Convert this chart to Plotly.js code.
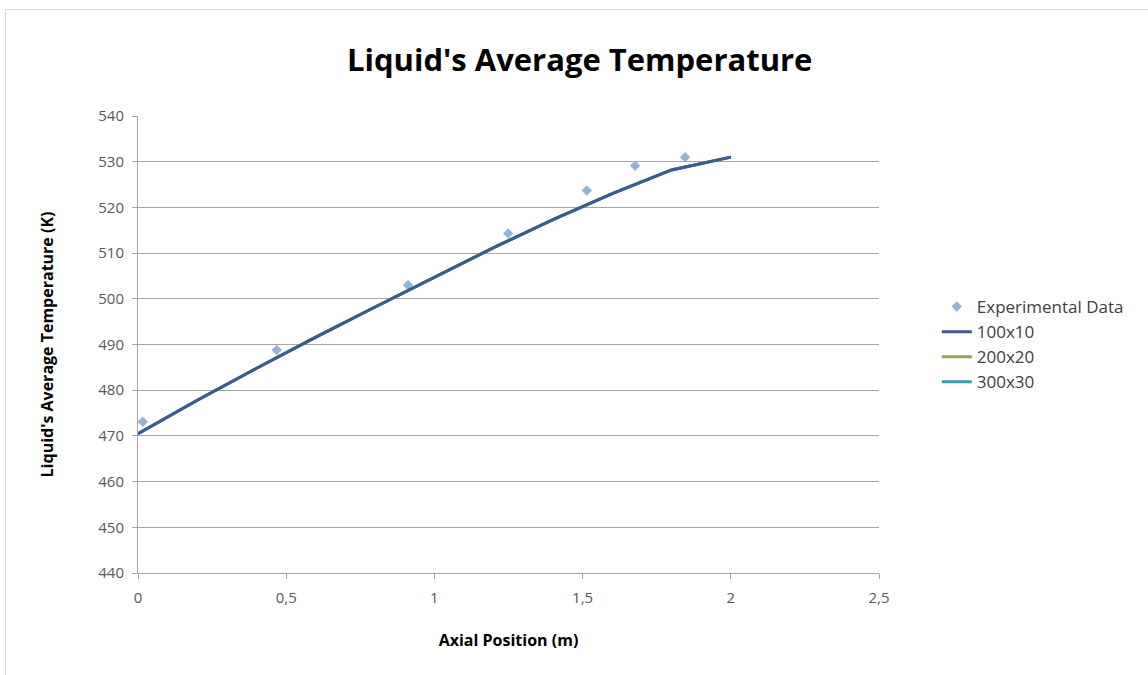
<!DOCTYPE html>
<html>
<head>
<meta charset="utf-8">
<script src="https://cdn.plot.ly/plotly-3.0.1.min.js"></script>
<style>
html,body{margin:0;padding:0;background:#fff;}
#wrap{position:relative;width:1148px;height:675px;}
#chart{width:1148px;height:675px;}
#frame{position:absolute;left:5px;top:9px;width:1150px;height:680px;border:1px solid #d9d9d9;pointer-events:none;}
</style>
</head>
<body>
<div id="wrap"><div id="chart"></div><div id="frame"></div></div>
<script>
// Experimental data
const expX = [0.016, 0.468, 0.911, 1.249, 1.514, 1.677, 1.846];
const expY = [473.1, 488.8, 503.0, 514.3, 523.7, 529.1, 531.0];
// Simulated profiles (mesh series overlap)
const simX = [0, 0.2, 0.4, 0.6, 0.8, 1.0, 1.2, 1.4, 1.6, 1.8, 2.0];
const sim100 = [470.5, 477.8, 484.8, 491.6, 498.2, 504.7, 511.2, 517.3, 523.0, 528.2, 531.0];
const sim200 = [470.5, 477.8, 484.8, 491.6, 498.2, 504.7, 511.2, 517.3, 523.0, 528.2, 531.0];
const sim300 = [470.5, 477.8, 484.8, 491.6, 498.2, 504.7, 511.2, 517.3, 523.0, 528.2, 531.0];
const xTickVals = [0, 0.5, 1, 1.5, 2, 2.5];
const xTickText = ['0', '0,5', '1', '1,5', '2', '2,5'];

const traces = [
  {x: expX, y: expY, mode: 'markers', name: 'Experimental Data', legendrank: 1,
   marker: {symbol: 'diamond', size: 8, color: '#95b3d7'}},
  {x: simX, y: sim200, mode: 'lines', name: '200x20', legendrank: 3,
   line: {color: '#8fa84a', width: 3}},
  {x: simX, y: sim300, mode: 'lines', name: '300x30', legendrank: 4,
   line: {color: '#3f9aab', width: 3}},
  {x: simX, y: sim100, mode: 'lines', name: '100x10', legendrank: 2,
   line: {color: '#3d5a8e', width: 3}}
];

const layout = {
  width: 1148, height: 675,
  paper_bgcolor: '#ffffff', plot_bgcolor: '#ffffff',
  margin: {l: 138, r: 269, t: 116, b: 102},
  font: {family: 'Open Sans, sans-serif', color: '#595959', size: 14},
  title: {text: "<b>Liquid's Average Temperature</b>", x: 0.505, xref: 'container', xanchor: 'center',
          y: 0.911, yanchor: 'middle', yref: 'container',
          font: {family: 'Open Sans, sans-serif', size: 31, color: '#000000'}},
  xaxis: {range: [0, 2.5], tickvals: xTickVals, ticktext: xTickText,
          showgrid: false, zeroline: false, showline: true, linecolor: '#a6a6a6', linewidth: 1,
          ticks: 'outside', ticklen: 5, tickcolor: '#a6a6a6', ticklabelstandoff: 6,
          tickfont: {size: 15, color: '#595959'},
          title: {text: '<b>Axial Position (m)</b>', standoff: 28,
                  font: {size: 16, color: '#000000'}}},
  yaxis: {range: [440, 540], dtick: 10, tick0: 440,
          showgrid: true, gridcolor: '#a6a6a6', gridwidth: 1,
          zeroline: false, showline: true, linecolor: '#a6a6a6', linewidth: 1,
          ticks: 'outside', ticklen: 5, tickcolor: '#a6a6a6', ticklabelstandoff: 5,
          tickfont: {size: 15, color: '#595959'},
          title: {text: "<b>Liquid's Average Temperature (K)</b>", standoff: 40,
                  font: {size: 16, color: '#000000'}}},
  legend: {x: 1.078, xanchor: 'left', y: 0.5, yanchor: 'middle',
           font: {size: 17, color: '#404040'}, tracegroupgap: 0,
           bgcolor: 'rgba(0,0,0,0)', itemwidth: 30},
  showlegend: true
};

Plotly.newPlot('chart', traces, layout, {displayModeBar: false, staticPlot: true});
</script>
</body>
</html>
